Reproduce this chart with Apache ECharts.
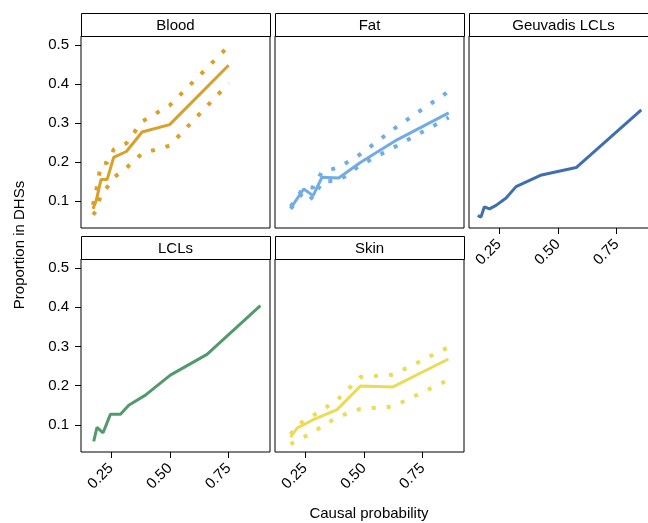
<!DOCTYPE html>
<html>
<head>
<meta charset="utf-8">
<title>Proportion in DHSs by causal probability</title>
<script src="https://cdn.jsdelivr.net/npm/echarts@6/dist/echarts.min.js"></script>
<style>
  html, body { margin: 0; padding: 0; background: #fff; }
  #chart { width: 648px; height: 523px; }
</style>
</head>
<body>
<div id="chart"></div>
<script>
// values
var panelNames = ['Blood', 'Fat', 'Geuvadis LCLs', 'LCLs', 'Skin'];
var xTicks = [0.25, 0.50, 0.75];
var yTicks = [0.1, 0.2, 0.3, 0.4, 0.5];

var bloodX  = [0.173, 0.187, 0.207, 0.233, 0.261, 0.315, 0.382, 0.499, 0.750];
var bloodY  = [0.080, 0.102, 0.155, 0.155, 0.212, 0.227, 0.277, 0.296, 0.448];
var bloodHi = [0.090, 0.128, 0.195, 0.198, 0.232, 0.248, 0.304, 0.345, 0.497];
var bloodLo = [0.065, 0.075, 0.118, 0.135, 0.160, 0.185, 0.222, 0.242, 0.402];

var fatX  = [0.189, 0.244, 0.284, 0.322, 0.393, 0.485, 0.641, 0.861];
var fatY  = [0.082, 0.131, 0.114, 0.161, 0.159, 0.199, 0.257, 0.326];
var fatHi = [0.086, 0.135, 0.135, 0.175, 0.186, 0.220, 0.291, 0.381];
var fatLo = [0.080, 0.125, 0.105, 0.150, 0.152, 0.192, 0.242, 0.314];

var geuvX = [0.159, 0.173, 0.187, 0.209, 0.237, 0.280, 0.322, 0.426, 0.578, 0.855];
var geuvY = [0.063, 0.059, 0.085, 0.080, 0.089, 0.108, 0.137, 0.166, 0.186, 0.334];

var lclX = [0.176, 0.190, 0.216, 0.247, 0.290, 0.325, 0.396, 0.502, 0.658, 0.885];
var lclY = [0.058, 0.094, 0.080, 0.127, 0.127, 0.150, 0.176, 0.227, 0.280, 0.404];

var skinX  = [0.188, 0.216, 0.280, 0.386, 0.485, 0.624, 0.860];
var skinY  = [0.069, 0.092, 0.112, 0.139, 0.199, 0.197, 0.268];
var skinHi = [0.076, 0.100, 0.122, 0.163, 0.222, 0.228, 0.298];
var skinLo = [0.051, 0.060, 0.080, 0.120, 0.141, 0.147, 0.215];

var FONT = '"Liberation Sans", Arial, Helvetica, sans-serif';

function pairs(xs, ys) {
  return xs.map(function (x, i) { return [x, ys[i]]; });
}

// facet layout: one entry per panel, same order as panelNames
var panels = [
  { left: 81,  top: 36,  height: 192, color: '#D9A02A', lines: [bloodY, bloodHi, bloodLo], x: bloodX, showX: false, showY: true },
  { left: 275, top: 36,  height: 192, color: '#72ACE6', lines: [fatY, fatHi, fatLo],       x: fatX,   showX: false, showY: false },
  { left: 469, top: 36,  height: 192, color: '#3F6FAE', lines: [geuvY],                    x: geuvX,  showX: true,  showY: false },
  { left: 81,  top: 259, height: 193, color: '#529A6D', lines: [lclY],                     x: lclX,   showX: true,  showY: true },
  { left: 275, top: 259, height: 193, color: '#EADC55', lines: [skinY, skinHi, skinLo],    x: skinX,  showX: true,  showY: false }
];
var PANEL_W = 189;
var STRIP_H = 23;

var grids = [], xAxes = [], yAxes = [], series = [], graphics = [];

panels.forEach(function (p, i) {
  // the right column runs past the canvas edge in the original, so no bounds clamping
  grids.push({
    left: p.left, top: p.top, width: PANEL_W, height: p.height,
    outerBoundsMode: 'none', containLabel: false,
    show: true, borderColor: '#000', borderWidth: 1, backgroundColor: '#fff'
  });
  xAxes.push({
    type: 'value', gridIndex: i, min: 0.122, max: 0.926,
    axisLine: { show: false },
    splitLine: { show: false },
    axisTick: { show: p.showX, length: 6, lineStyle: { color: '#000' }, customValues: xTicks },
    axisLabel: {
      show: p.showX, rotate: 45, margin: 14, fontSize: 15, fontFamily: FONT, color: '#000',
      customValues: xTicks,
      formatter: function (v) { return v.toFixed(2); }
    }
  });
  yAxes.push({
    type: 'value', gridIndex: i, min: 0.031, max: 0.523,
    axisLine: { show: false },
    splitLine: { show: false },
    axisTick: { show: p.showY, length: 6, lineStyle: { color: '#000' }, customValues: yTicks },
    axisLabel: {
      show: p.showY, margin: 12, fontSize: 15, fontFamily: FONT, color: '#000',
      customValues: yTicks,
      formatter: function (v) { return v.toFixed(1); }
    }
  });

  // confidence bounds are dotted, the estimate is solid
  p.lines.forEach(function (ys, k) {
    series.push({
      type: 'line', xAxisIndex: i, yAxisIndex: i,
      data: pairs(p.x, ys),
      symbol: 'none', silent: true, z: k === 0 ? 3 : 2,
      lineStyle: k === 0
        ? { color: p.color, width: 3 }
        : { color: p.color, width: 4, type: [4, 11] }
    });
  });

  // strip with the panel name
  graphics.push({
    type: 'rect',
    shape: { x: p.left + 0.5, y: p.top - STRIP_H + 0.5, width: PANEL_W, height: STRIP_H },
    style: { fill: '#fff', stroke: '#000', lineWidth: 1 }
  });
  graphics.push({
    type: 'text',
    style: {
      text: panelNames[i], x: p.left + PANEL_W / 2, y: p.top - STRIP_H / 2 + 1,
      align: 'center', verticalAlign: 'middle', font: '15px ' + FONT, fill: '#000'
    }
  });
});

graphics.push({
  type: 'text', rotation: Math.PI / 2, x: 20, y: 245,
  style: {
    text: 'Proportion in DHSs', x: 0, y: 0, align: 'center', verticalAlign: 'middle',
    font: '15px ' + FONT, fill: '#000'
  }
});
graphics.push({
  type: 'text',
  style: {
    text: 'Causal probability', x: 369, y: 514, align: 'center', verticalAlign: 'middle',
    font: '15px ' + FONT, fill: '#000'
  }
});

var chart = echarts.init(document.getElementById('chart'), null, { renderer: 'canvas' });
chart.setOption({
  animation: false,
  backgroundColor: '#fff',
  grid: grids,
  xAxis: xAxes,
  yAxis: yAxes,
  series: series,
  graphic: graphics
});
</script>
</body>
</html>
